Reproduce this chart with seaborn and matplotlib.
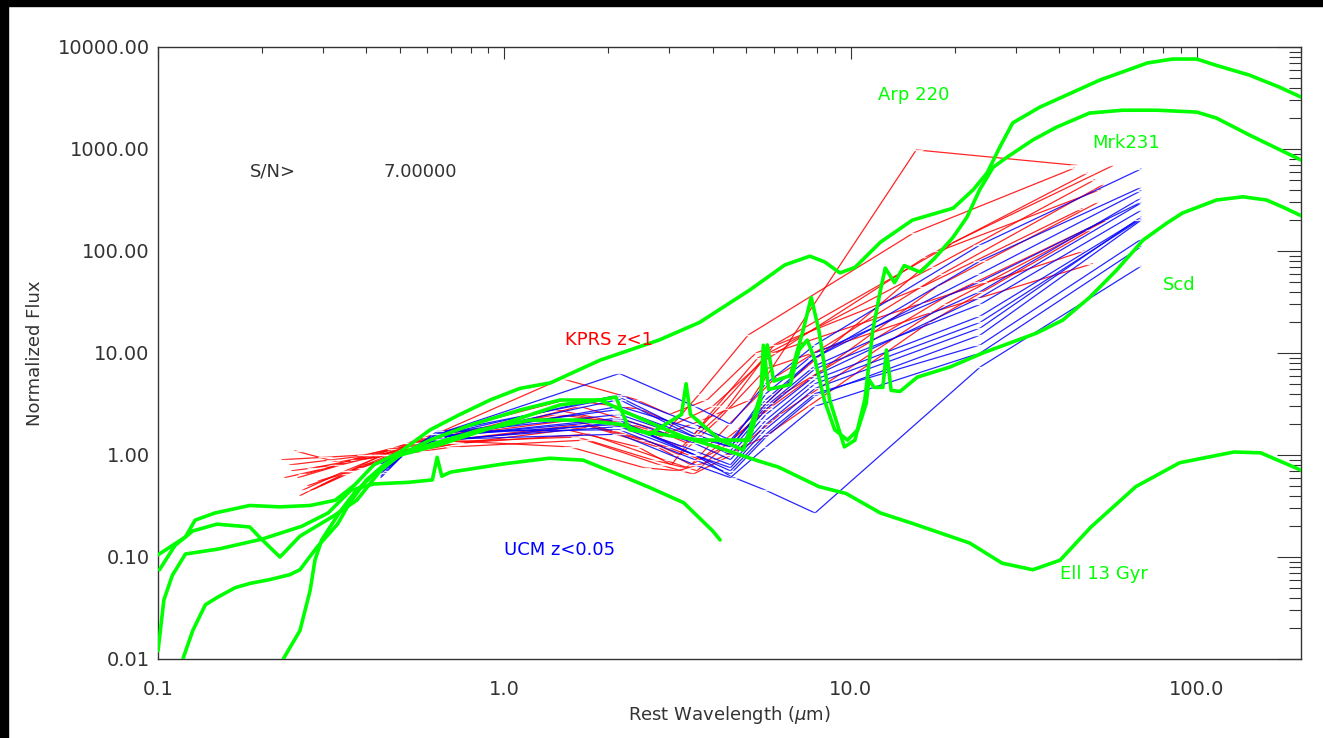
import pandas as pd
import seaborn as sns
import matplotlib.pyplot as plt
from matplotlib.ticker import FixedLocator, FormatStrFormatter, NullFormatter
from matplotlib.patches import Rectangle

sns.set_theme(style="white")
plt.rcParams['font.family'] = ['DejaVu Sans']

# ---- template SEDs (rest wavelength in micron, normalized flux) ----
arp_lam = [0.118, 0.126, 0.137, 0.148, 0.167, 0.184, 0.21, 0.24, 0.257, 0.288, 0.33, 0.358,
           0.40, 0.45, 0.50, 0.61, 0.85, 1.19, 1.65, 2.16, 2.63, 3.25, 3.35, 3.45, 4.2, 4.9,
           5.5, 5.75, 6.0, 6.2, 6.7, 7.3, 7.7, 8.1, 8.7, 9.6, 10.3, 11.0, 11.6, 12.2, 12.6,
           13.4, 14.3, 15.9, 17.5, 19.8, 21.7, 23.6, 25.8, 28.3, 33.6, 39.4, 49, 61, 77, 100,
           114, 142, 200]
arp_flux = [0.01, 0.019, 0.034, 0.04, 0.05, 0.055, 0.06, 0.067, 0.075, 0.125, 0.21, 0.34,
            0.57, 0.8, 1.0, 1.26, 1.76, 2.2, 2.2, 2.0, 1.6, 2.5, 5.0, 2.5, 1.4, 1.12,
            3.9, 12, 5.3, 5.5, 6.0, 16.8, 35, 16.8, 3.5, 1.2, 1.4, 3.5, 16.8, 41, 68,
            49, 72, 62, 85, 137, 215, 398, 660, 830, 1225, 1640, 2250, 2400, 2400, 2300,
            2010, 1370, 780]

mrk_lam = [0.10, 0.12, 0.128, 0.146, 0.184, 0.225, 0.275, 0.325, 0.37, 0.42, 0.50, 0.61,
           0.74, 0.91, 1.11, 1.36, 1.89, 2.8, 3.67, 5.12, 6.46, 7.63, 8.43, 9.32, 10.3, 12.2,
           15.1, 19.8, 22.6, 24.8, 27, 29.4, 35.2, 52.5, 72, 85, 100, 114, 142, 173, 200]
mrk_flux = [0.105, 0.157, 0.23, 0.27, 0.32, 0.31, 0.32, 0.36, 0.51, 0.80, 1.07, 1.76,
            2.47, 3.46, 4.5, 5.1, 8.5, 13.4, 20, 41.5, 73, 89, 78, 61, 69, 122,
            201, 263, 398, 582, 1047, 1800, 2570, 4740, 6970, 7620, 7620, 6600, 5300, 4050, 3230]

scd_lam = [0.101, 0.112, 0.126, 0.148, 0.184, 0.2, 0.225, 0.257, 0.32, 0.375, 0.44, 0.5,
           0.65, 0.97, 1.45, 1.89, 2.1, 2.3, 3.2, 3.67, 5.1, 5.5, 5.6, 5.8, 6.7, 7.1, 7.5,
           7.9, 8.4, 9.0, 9.8, 10.5, 11.1, 11.3, 11.7, 12.4, 12.7, 13.1, 13.9, 15.6, 19.4,
           24.1, 28.8, 34.5, 41, 49, 58.7, 70, 82, 91, 114, 136, 159, 177, 200]
scd_flux = [0.075, 0.13, 0.18, 0.21, 0.197, 0.147, 0.1, 0.16, 0.25, 0.36, 0.71, 1.0,
            1.26, 1.97, 3.1, 3.46, 3.7, 1.77, 1.5, 1.4, 1.4, 3.46, 11.9, 4.4, 4.9, 10.7, 13.4,
            8.5, 3.46, 1.77, 1.4, 1.77, 3.2, 5.5, 4.6, 4.6, 10.7, 4.3, 4.2, 5.8, 7.3,
            10, 12.5, 15.7, 21, 35, 65, 128, 188, 236, 316, 340, 316, 270, 222]

ell_lam = [0.23, 0.257, 0.275, 0.284, 0.297, 0.335, 0.37, 0.41, 0.45, 0.5, 0.61, 0.8, 1.11,
           1.45, 1.89, 2.26, 3.3, 4.1, 5.33, 6.2, 8.1, 9.7, 12.2, 15, 22.1, 27.4, 33.6, 40.3,
           49.5, 66.7, 89.3, 128, 153, 200]
ell_flux = [0.01, 0.019, 0.047, 0.093, 0.147, 0.276, 0.43, 0.6, 0.8, 1.0, 1.4, 1.97, 2.76,
            3.46, 3.46, 2.6, 1.5, 1.2, 0.89, 0.76, 0.49, 0.42, 0.27, 0.215, 0.137, 0.087, 0.075, 0.093,
            0.197, 0.49, 0.84, 1.07, 1.05, 0.71]

young_lam = [0.1, 0.104, 0.11, 0.12, 0.15, 0.2, 0.26, 0.31, 0.36, 0.42, 0.53, 0.62, 0.64,
             0.66, 0.70, 1.0, 1.35, 1.69, 2.1, 2.63, 3.3, 4.0, 4.2]
young_flux = [0.012, 0.038, 0.066, 0.107, 0.12, 0.15, 0.2, 0.27, 0.45, 0.52, 0.54, 0.57, 0.95,
              0.62, 0.68, 0.82, 0.93, 0.89, 0.66, 0.48, 0.34, 0.18, 0.147]

templates = {
    "Arp 220": (arp_lam, arp_flux),
    "Mrk231": (mrk_lam, mrk_flux),
    "Scd": (scd_lam, scd_flux),
    "Ell 13 Gyr": (ell_lam, ell_flux),
    "young": (young_lam, young_flux),
}

# ---- UCM z<0.05 galaxies (rest ~ observed) ----
ucm_lam = [0.44, 0.51, 0.64, 2.15, 3.55, 4.5, 5.7, 7.9, 23.7, 69]
ucm_flux = [
    [0.70, 1.0, 1.60, 6.3, 3.0, 2.0, 5.0, 12.0, 115, 637],
    [0.75, 1.0, 1.55, 3.9, 2.0, 1.4, 3.5, 9.0, 60, 390],
    [0.65, 1.0, 1.65, 3.7, 1.6, 1.2, 3.0, 7.5, 40, 330],
    [0.80, 1.0, 1.45, 3.5, 1.5, 1.0, 2.5, 6.0, 35, 295],
    [0.72, 1.0, 1.50, 2.3, 1.3, 0.9, 2.2, 5.5, 23, 210],
    [0.68, 1.0, 1.55, 2.0, 1.1, 0.8, 2.0, 5.0, 20, 205],
    [0.78, 1.0, 1.40, 1.9, 1.0, 0.75, 1.8, 4.5, 17.6, 215],
    [0.62, 1.0, 1.70, 1.77, 0.9, 0.65, 1.5, 3.8, 15, 200],
    [0.85, 1.0, 1.35, 2.1, 1.0, 0.62, 0.45, 0.27, 7.3, 71],
    [0.60, 1.0, 1.60, 2.5, 1.4, 1.1, 2.8, 7.0, 30, 250],
    [0.75, 1.0, 1.45, 3.0, 1.8, 1.3, 4.0, 10.0, 50, 300],
    [0.70, 1.0, 1.50, 2.2, 1.0, 0.7, 1.6, 4.0, 12, 130],
    [0.66, 1.0, 1.62, 2.8, 1.5, 1.2, 3.2, 9.0, 80, 420],
    [0.82, 1.0, 1.42, 1.6, 0.8, 0.6, 1.2, 3.0, 10, 110],
]

# ---- KPRS z<1 galaxies: observed bands shifted to rest frame ----
kprs_obs = [0.36, 0.48, 0.62, 0.76, 0.91, 2.2, 3.6, 4.5, 5.8, 8.0, 24, 70]
kprs_z = [0.55, 0.22, 0.45, 0.30, 0.50, 0.25, 0.48, 0.40, 0.35, 0.28, 0.58, 0.33, 0.42, 0.38]
kprs_flux = [
    [0.60, 0.75, 1.0, 1.2, 1.4, 2.5, 2.0, 1.6, 2.2, 3.5, 980, 690],
    [0.50, 0.80, 1.0, 1.2, 1.3, 1.9, 1.2, 0.9, 1.8, 5.0, 120, 690],
    [1.10, 0.85, 1.0, 1.3, 1.6, 3.5, 2.8, 2.0, 3.0, 8.0, 88, 580],
    [0.45, 0.70, 1.0, 1.25, 1.4, 2.0, 1.2, 0.8, 2.0, 6.0, 60, 450],
    [0.80, 0.90, 1.0, 1.2, 1.5, 5.6, 3.5, 2.5, 3.5, 10, 44, 260],
    [0.55, 0.75, 1.0, 1.15, 1.3, 1.6, 0.9, 0.7, 1.5, 4.0, 37, 210],
    [0.70, 0.80, 1.0, 1.1, 1.35, 1.8, 1.2, 0.8, 2.5, 9.0, 31, 100],
    [0.40, 0.65, 1.0, 1.3, 1.5, 2.2, 1.4, 1.0, 2.2, 7.0, 25, 75],
    [0.65, 0.85, 1.0, 1.2, 1.35, 1.5, 0.9, 0.75, 1.2, 3.0, 45, 300],
    [0.75, 0.90, 1.0, 1.1, 1.2, 1.4, 0.8, 0.65, 1.0, 2.5, 30, 200],
    [0.90, 0.95, 1.0, 1.15, 1.3, 2.8, 2.0, 1.5, 4.0, 15, 150, 650],
    [0.50, 0.70, 1.0, 1.2, 1.4, 3.0, 1.8, 1.3, 2.8, 12, 100, 400],
    [0.60, 0.80, 1.0, 1.2, 1.4, 1.2, 0.75, 0.7, 0.9, 1.5, 20, 160],
    [0.45, 0.70, 1.0, 1.3, 1.6, 2.5, 1.6, 1.2, 3.0, 10, 70, 500],
]

# tick positions
x_major = [0.1, 1.0, 10.0, 100.0]
y_major = [0.01, 0.1, 1.0, 10.0, 100.0, 1000.0, 10000.0]
x_minor = [m * d for d in [0.1, 1, 10, 100] for m in range(2, 10) if m * d <= 200]
y_minor = [m * d for d in [0.01, 0.1, 1, 10, 100, 1000] for m in range(2, 10)]

# long tables for seaborn
rows = []
for i, fl in enumerate(ucm_flux):
    for lam, f in zip(ucm_lam, fl):
        rows.append({"gal": i, "lam": lam, "flux": f})
ucm_df = pd.DataFrame(rows)

rows = []
for i, (z, fl) in enumerate(zip(kprs_z, kprs_flux)):
    for lam, f in zip(kprs_obs, fl):
        rows.append({"gal": i, "lam": lam / (1 + z), "flux": f})
kprs_df = pd.DataFrame(rows)

W, H = 1323, 738
fig = plt.figure(figsize=(W / 100, H / 100), dpi=100, facecolor="white")
ax = fig.add_axes([158 / W, 1 - 659 / H, (1301 - 158) / W, (659 - 47) / H])

line_kw = dict(estimator=None, sort=False, legend=False, marker="_", markersize=10,
               markeredgewidth=1.0, linewidth=0.9, ax=ax)
sns.lineplot(data=kprs_df, x="lam", y="flux", units="gal", color="#ff0000", alpha=0.85, **line_kw)
sns.lineplot(data=ucm_df, x="lam", y="flux", units="gal", color="#0000ff", alpha=0.85, **line_kw)

for name, (lam, fl) in templates.items():
    sns.lineplot(x=lam, y=fl, sort=False, estimator=None, color="#00ff00",
                 linewidth=2.6, ax=ax, zorder=3)

ax.set_xscale("log")
ax.set_yscale("log")
ax.set_xlim(0.1, 200)
ax.set_ylim(0.01, 10000)

ax.xaxis.set_major_locator(FixedLocator(x_major))
ax.xaxis.set_minor_locator(FixedLocator(x_minor))
ax.yaxis.set_major_locator(FixedLocator(y_major))
ax.yaxis.set_minor_locator(FixedLocator(y_minor))
ax.xaxis.set_major_formatter(FormatStrFormatter("%.1f"))
ax.yaxis.set_major_formatter(FormatStrFormatter("%.2f"))
ax.xaxis.set_minor_formatter(NullFormatter())
ax.yaxis.set_minor_formatter(NullFormatter())

tc = "#333333"
ax.tick_params(axis="both", which="both", direction="in", top=True, right=True,
               colors=tc, labelcolor=tc, width=0.8, labelsize=14)
ax.tick_params(axis="y", which="major", length=17, pad=6)
ax.tick_params(axis="y", which="minor", length=8.5)
ax.tick_params(axis="x", which="major", length=8.5, pad=15)
ax.tick_params(axis="x", which="minor", length=4.3)
for sp in ax.spines.values():
    sp.set_color(tc)
    sp.set_linewidth(1.0)

ax.set_xlabel(r"Rest Wavelength ($\mu$m)", fontsize=13, color=tc, labelpad=4)
ax.set_ylabel("Normalized Flux", fontsize=13, color=tc, labelpad=10)

ax.text(0.184, 596, "S/N>", fontsize=13, color=tc, va="center")
ax.text(0.447, 596, "7.00000", fontsize=13, color=tc, va="center")
ax.text(12.0, 3390, "Arp 220", fontsize=13, color="#00ff00", va="center")
ax.text(49.8, 1150, "Mrk231", fontsize=13, color="#00ff00", va="center")
ax.text(79.8, 46, "Scd", fontsize=13, color="#00ff00", va="center")
ax.text(40.3, 0.068, "Ell 13 Gyr", fontsize=13, color="#00ff00", va="center")
ax.text(1.5, 13.4, "KPRS z<1", fontsize=13, color="#ff0000", va="center")
ax.text(1.0, 0.117, "UCM z<0.05", fontsize=13, color="#0000ff", va="center")

# black frame strips like the original screen grab
fig.add_artist(Rectangle((0, 1 - 6 / H), 1, 6 / H, transform=fig.transFigure,
                         color="black", zorder=10))
fig.add_artist(Rectangle((0, 0), 8 / W, 1, transform=fig.transFigure,
                         color="black", zorder=10))

fig.savefig("out.png", dpi=100, facecolor="white")
